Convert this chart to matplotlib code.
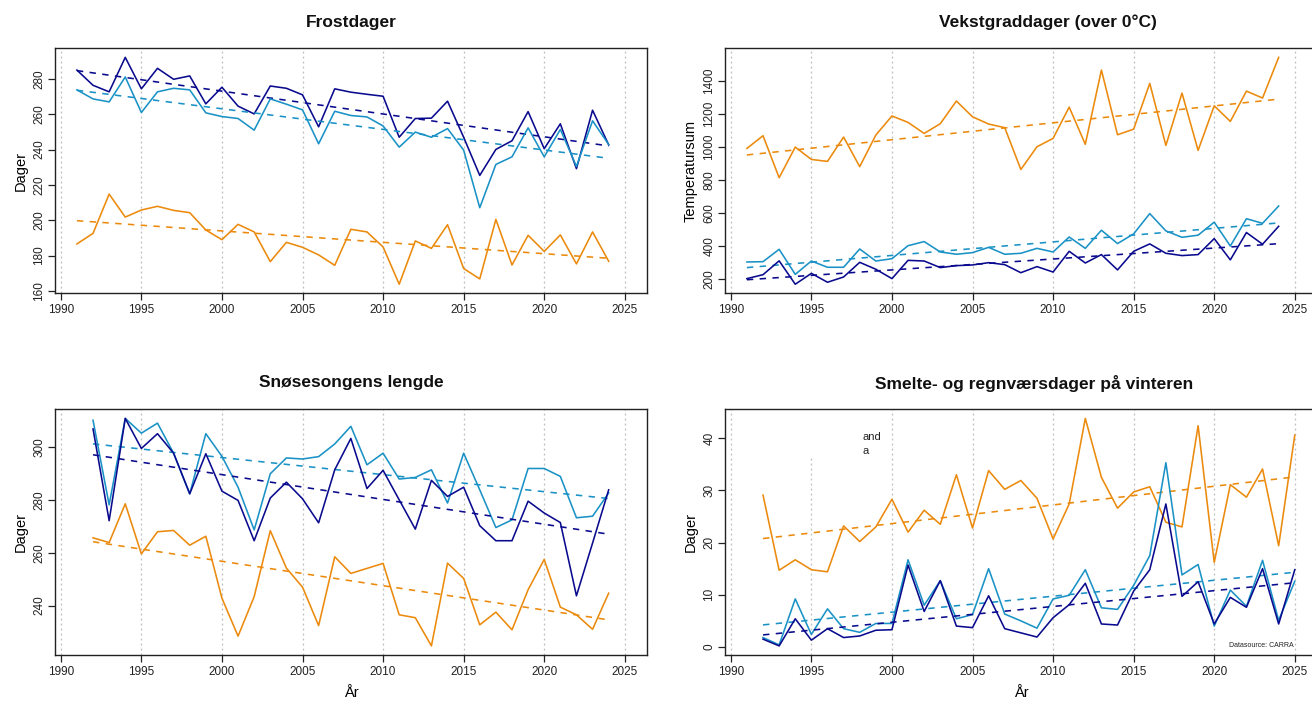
import numpy as np
import matplotlib.pyplot as plt
from matplotlib.patches import Rectangle

plt.rcParams['font.family'] = ['Liberation Sans', 'DejaVu Sans']

# --- data -------------------------------------------------------------
years_frost = np.arange(1991, 2025)
frost_dark = [285, 276.4, 272.7, 292.2, 274.4, 286, 279.8, 281.7, 265.9, 275.3, 264.6, 260.2,
              276, 274.7, 271, 252.9, 274.4, 272.5, 271.3, 270.2, 247, 257.6, 257.8, 267.4,
              247, 225.4, 240.1, 245, 261.5, 240.5, 254.6, 229.2, 262.3, 242.7]
frost_teal = [273.8, 268.7, 267, 281.1, 261, 272.7, 274.7, 273.8, 260.8, 258.7, 257.6, 251,
              268.7, 265.7, 262.5, 243.3, 261.7, 259.3, 258.5, 253.4, 241.4, 249.9, 247, 251.9,
              239.7, 207.1, 231.6, 235.9, 252.3, 235.9, 251.4, 230.5, 256.3, 242.9]
frost_orange = [186.6, 192.6, 214.8, 201.8, 205.8, 207.9, 205.6, 204.3, 194.5, 189, 197.7, 193.4,
                176.6, 187.5, 184.7, 180.4, 174.5, 194.9, 193.4, 184.9, 163.8, 188.3, 184.1, 197.5,
                172.7, 166.8, 200.5, 174.7, 191.5, 182.4, 191.7, 175.3, 193.4, 176.8]

years_gdd = np.arange(1991, 2025)
gdd_orange = [991, 1068, 813, 999, 924, 912, 1060, 880, 1072, 1188, 1149, 1082, 1141, 1279, 1183,
              1139, 1117, 863, 1001, 1052, 1242, 1016, 1467, 1074, 1108, 1386, 1009, 1327, 979,
              1250, 1155, 1339, 1297, 1544]
gdd_teal = [301, 303, 378, 226, 307, 269, 269, 380, 307, 321, 400, 425, 362, 348, 358, 390, 348,
            354, 384, 362, 453, 384, 494, 413, 472, 595, 490, 451, 464, 543, 398, 564, 536, 641]
gdd_dark = [200, 224, 308, 166, 232, 178, 210, 299, 257, 200, 311, 307, 267, 279, 283, 297, 285,
            236, 273, 240, 366, 295, 346, 253, 366, 411, 354, 340, 346, 443, 314, 480, 409, 518]

years_snow = np.arange(1992, 2025)
snow_teal = [310.3, 278.2, 311, 305.4, 309.2, 297.8, 282.4, 305.2, 296.6, 284.9, 268.7, 290, 296,
             295.6, 296.5, 301.3, 308, 293.4, 297.8, 288, 288.6, 291.5, 278.9, 297.8, 283.9,
             269.6, 272.5, 292, 292, 289, 273.3, 273.9, 282.7]
snow_dark = [307, 272.2, 311, 299.6, 305.2, 297.8, 282.4, 297.6, 283.4, 279.9, 264.6, 280.8, 286.8,
             280.5, 271.4, 291.5, 303.4, 284.4, 291.3, 280.1, 269, 287.5, 281.4, 284.9, 270.3,
             264.6, 264.6, 279.6, 275.1, 271.5, 243.7, 263.7, 283.9]
snow_orange = [265.7, 263.9, 278.6, 259.6, 268, 268.5, 262.9, 266.3, 242.8, 228.4, 243.4, 268.4,
               254.2, 247, 232.4, 258.5, 252.2, 254.1, 256, 236.5, 235.4, 224.7, 256.1, 250.3,
               232.7, 237.5, 230.8, 246, 257.5, 239.4, 236.5, 231, 244.7]

years_melt = np.arange(1992, 2026)
melt_orange = [29.1, 14.7, 16.7, 14.8, 14.4, 23.2, 20.2, 23, 28.3, 22, 26.2, 23.5, 33, 22.8, 33.8,
               30.2, 31.9, 28.5, 20.7, 27.4, 43.8, 32.5, 26.6, 29.7, 30.7, 23.9, 23, 42.4, 16.2,
               31.1, 28.7, 34.1, 19.4, 40.6]
melt_teal = [1.8, 0.4, 9.2, 2.4, 7.3, 3.5, 2.8, 4.5, 4.5, 16.7, 8, 12.7, 5.4, 6.2, 15, 6.3, 5, 3.6,
             9.2, 9.9, 14.8, 7.5, 7.2, 11.8, 17.5, 35.3, 13.8, 15.8, 4, 10.9, 7.8, 16.6, 5.1, 12.6]
melt_dark = [1.5, 0.2, 5.4, 1.3, 3.5, 1.8, 2.1, 3.2, 3.3, 15.7, 6.8, 12.7, 4, 3.7, 9.8, 3.5, 2.7,
             1.9, 5.6, 8.1, 12.2, 4.4, 4.2, 10.7, 14.8, 27.4, 9.7, 12.5, 4.4, 9.5, 7.6, 15, 4.4, 14.8]

DARK = '#0a0a8e'
TEAL = '#1a92c6'
ORANGE = '#eb8a0c'

W, H = 1312, 704
fig = plt.figure(figsize=(W / 100, H / 100), dpi=100)


def px_axes(left, top, right, bottom):
    return fig.add_axes([left / W, 1 - bottom / H, (right - left) / W, (bottom - top) / H])


def panel(ax, years, series, yticks, ylabel, xlabel=None):
    for yr in range(1990, 2030, 5):
        ax.axvline(yr, color='#bdbdbd', lw=0.9, ls=(0, (1.5, 2.5)), zorder=0)
    allv = np.concatenate([np.asarray(s) for s, _ in series])
    lo, hi = allv.min(), allv.max()
    pad = (hi - lo) * 0.04
    for vals, col in series:
        vals = np.asarray(vals)
        ax.plot(years, vals, color=col, lw=1.15, zorder=3)
        k, m = np.polyfit(years, vals, 1)
        ax.plot(years, k * years + m, color=col, lw=1.15, ls=(0, (4, 4)), zorder=3)
    ax.set_xlim(1989.64, 2026.36)
    ax.set_ylim(lo - pad, hi + pad)
    ax.set_xticks(range(1990, 2030, 5))
    ax.set_yticks(yticks)
    ax.tick_params(axis='both', direction='out', length=5, width=0.9, labelsize=8.5,
                   color='#222222', labelcolor='#222222')
    ax.tick_params(axis='y', labelrotation=90, pad=2)
    ax.tick_params(axis='x', pad=3)
    for lab in ax.get_yticklabels():
        lab.set_va('center')
    for sp in ax.spines.values():
        sp.set_color('#222222')
        sp.set_linewidth(1.0)
    ax.set_ylabel(ylabel, fontsize=10.5, labelpad=4)
    if xlabel:
        ax.set_xlabel(xlabel, fontsize=10.5, labelpad=6)


ax1 = px_axes(55, 48.3, 646.7, 293.3)
panel(ax1, years_frost, [(frost_dark, DARK), (frost_teal, TEAL), (frost_orange, ORANGE)],
      range(160, 300, 20), 'Dager')

ax2 = px_axes(725, 48.3, 1316.7, 293.3)
panel(ax2, years_gdd, [(gdd_orange, ORANGE), (gdd_teal, TEAL), (gdd_dark, DARK)],
      range(200, 1600, 200), 'Temperatursum')

ax3 = px_axes(55, 409.3, 646.7, 655)
panel(ax3, years_snow, [(snow_teal, TEAL), (snow_dark, DARK), (snow_orange, ORANGE)],
      range(240, 320, 20), 'Dager', 'År')

ax4 = px_axes(725, 409.3, 1316.7, 655)
panel(ax4, years_melt, [(melt_orange, ORANGE), (melt_teal, TEAL), (melt_dark, DARK)],
      range(0, 50, 10), 'Dager', 'År')

# white box left over from a hidden legend
ax4.add_patch(Rectangle((1990.67, 36.2), 7.46, 10, facecolor='white', edgecolor='none', zorder=1))
fig.text(862.5 / W, 1 - 437 / H, 'and', fontsize=8, va='center', ha='left', color='#222222')
fig.text(862.5 / W, 1 - 451.5 / H, 'a', fontsize=8, va='center', ha='left', color='#222222')
ax4.text(2024.9, -0.3, 'Datasource: CARRA', fontsize=5, ha='right', va='bottom', color='#222222')

# titles
title_kw = dict(fontsize=12.5, fontweight='bold', ha='center', va='center', color='#111111')
fig.text(351 / W, 1 - 22 / H, 'Frostdager', **title_kw)
fig.text(1048 / W, 1 - 22 / H, 'Vekstgraddager (over 0°C)', **title_kw)
fig.text(351 / W, 1 - 383 / H, 'Snøsesongens lengde', **title_kw)
fig.text(1034 / W, 1 - 383 / H, 'Smelte- og regnværsdager på vinteren', **title_kw)

fig.savefig('out.png', dpi=100)
